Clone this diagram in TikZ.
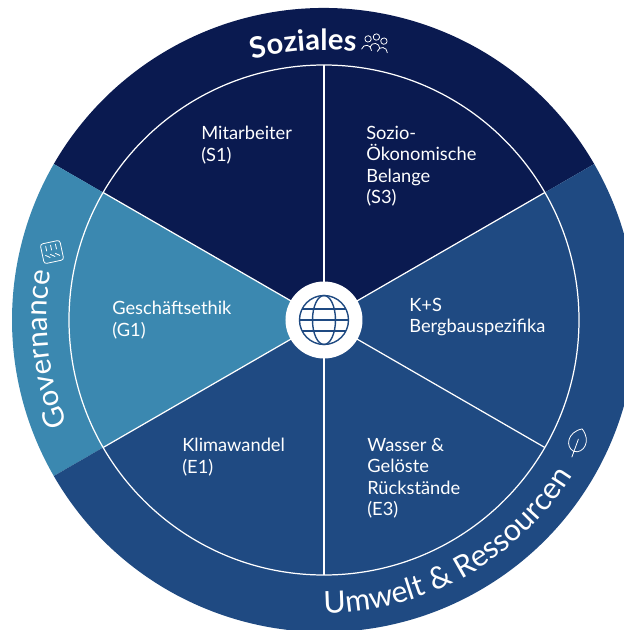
\documentclass[tikz,border=0pt]{standalone}
\usepackage{fontspec}
\setmainfont{Lato}
\usetikzlibrary{decorations.text}

\definecolor{navy}{HTML}{0A1A50}
\definecolor{midblue}{HTML}{1F4A82}
\definecolor{lightblue}{HTML}{3B88B0}

\tikzset{
	spoke/.style={draw=white, line width=0.7pt},
	wheellabel/.style={anchor=north west, inner sep=0pt, align=left, text=white, font=\fontsize{10.4}{12.1}\selectfont},
	icon/.style={draw=white, line width=0.45pt, line join=round, line cap=round},
	ringtext/.style={decorate, decoration={text along path, text align=center, text color=white, text={#1}}}
}

\begin{document}
\begin{tikzpicture}[x=0.02cm, y=0.02cm]
	\clip (-324, -310) rectangle (300, 320);
	\fill[white] (-324, -310) rectangle (300, 320);

	% sectors
	\foreach \from/\to/\col in {30/150/navy, 150/210/lightblue, 210/390/midblue}
		\fill[\col] (0, 0) -- (\from:312) arc (\from:\to:312) -- cycle;

	% wheel
	\foreach \a in {30, 90, ..., 330}
		\draw[spoke] (0, 0) -- (\a:255);
	\draw[spoke] (0, 0) circle (255);

	% hub
	\fill[white] (0, 0) circle (38.5);
	\begin{scope}[midblue, line width=0.8pt]
		\draw (0, 0) circle (24.5);
		\draw (0, 0) ellipse (11.5 and 24.5);
		\draw (-24.5, 0) -- (24.5, 0);
		\draw (-21.8, 11) -- (21.8, 11);
		\draw (-21.8, -11) -- (21.8, -11);
	\end{scope}

	% labels
	\node[wheellabel] (s1) at (-123, 194) {Mitarbeiter\\(S1)};
	\node[wheellabel] (s3) at (42, 194) {Sozio-\\Ökonomische\\Belange\\(S3)};
	\node[wheellabel] (k) at (85, 22) {K+S\\Bergbauspezifika};
	\node[wheellabel] (g1) at (-212, 19) {Geschäftsethik\\(G1)};
	\node[wheellabel] (e1) at (-142, -118) {Klimawandel\\(E1)};
	\node[wheellabel] (e3) at (43, -118) {Wasser \&\\Gelöste\\Rückstände\\(E3)};

	% ring titles
	\path[ringtext={|\fontsize{16.6}{17}\selectfont\bfseries|Soziales}] (129.5:270) arc (129.5:59:270);
	\path[ringtext={|\fontsize{16.7}{17}\selectfont|Governance}] (221.5:277) arc (221.5:150.5:277);
	\path[ringtext={|\fontsize{17.3}{18}\selectfont|Umwelt {\&} Ressourcen}] (-111:293) arc (-111:-11:293);

	% people
	\begin{scope}[shift={(52, 280)}, rotate=-8]
		\foreach \x/\y in {-8/0, 0/3, 8/0} {
			\draw[icon] (\x, \y) circle (3.2);
			\draw[icon] (\x-5, \y-11) .. controls (\x-4, \y-5) and (\x+4, \y-5) .. (\x+5, \y-11);
		}
	\end{scope}

	% board
	\begin{scope}[shift={(-272, 68)}, rotate=12]
		\draw[icon, rounded corners=1.5pt] (-10, -10) rectangle (10, 10);
		\foreach \x in {-5, 0, 5} {
			\draw[icon] (\x, 7) -- (\x, 2);
			\draw[icon] (\x-2, -2) -- (\x+2, -5);
		}
	\end{scope}

	% leaf
	\begin{scope}[shift={(253, -123)}, rotate=-20]
		\draw[icon] (0, 15) .. controls (13, 7) and (10, -8) .. (0, -9) .. controls (-10, -8) and (-13, 7) .. (0, 15);
		\draw[icon] (0, 4) -- (0, -15);
	\end{scope}
\end{tikzpicture}
\end{document}
